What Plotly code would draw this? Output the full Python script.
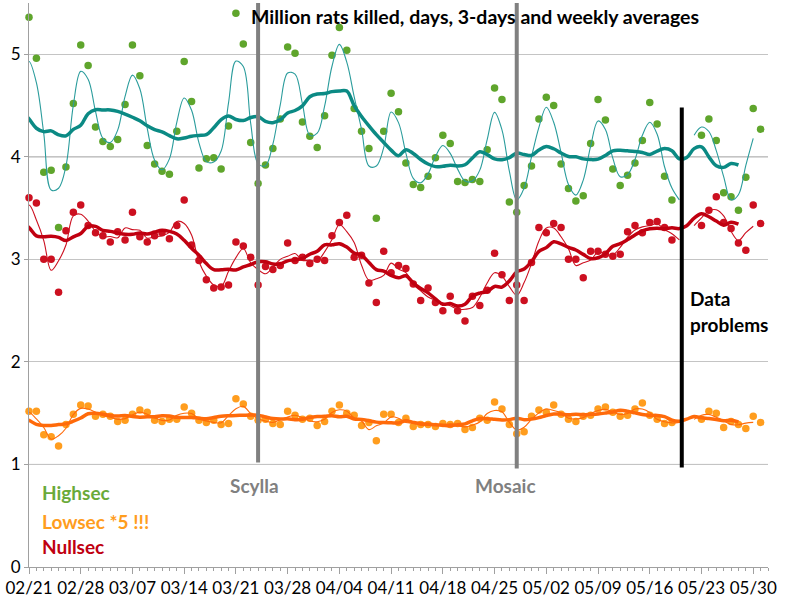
import pandas as pd
import plotly.graph_objects as go

# Daily values (million rats), from 2015-02-18 (3 lead-in days used by the centred averages) to 2015-05-31
start_date = "2015-02-18"
highsec = [3.95, 4.13, 4.47,
           5.36, 4.96, 3.85, 3.87, 3.31, 3.90, 4.52, 5.09, 4.89, 4.29,
           4.15, 4.10, 4.17, 4.51, 5.09, 4.79, 4.11, 3.93, 3.86, 3.83,
           4.25, 4.93, 4.54, 3.89, 3.98, 3.99, 3.88, 4.30, 5.40, 5.10,
           4.14, 3.74, 3.92, 4.08, 4.37, 5.07, 5.01, 4.34, 4.20, 4.09,
           4.40, 4.99, 5.26, 5.04, 4.47, 4.25, 4.08, 3.40, 4.25, 4.62,
           4.44, 3.94, 3.73, 3.70, 3.81, 3.99, 4.21, 4.13, 3.76, 3.75,
           3.78, 3.76, 4.07, 4.67, 4.56, 3.56, 3.46, 3.72, 3.91, 4.37,
           4.58, 4.50, 3.93, 3.69, 3.57, 3.62, 4.13, 4.56, 4.36, 3.88,
           3.72, 3.82, 3.94, 4.16, 4.53, 4.32, 3.81, 3.58, None, None,
           None, 4.21, 4.37, 4.16, 3.65, 3.61, 3.48, 3.80, 4.47, 4.27]
nullsec = [3.25, 3.33, 3.44,
           3.60, 3.55, 3.00, 3.00, 2.68, 3.28, 3.46, 3.53, 3.33, 3.26,
           3.23, 3.17, 3.27, 3.19, 3.46, 3.22, 3.17, 3.23, 3.26, 3.20,
           3.33, 3.58, 3.14, 2.99, 2.80, 2.72, 2.73, 2.75, 3.17, 3.13,
           3.02, 2.75, 2.93, 2.90, 2.94, 3.16, 2.99, 3.02, 2.96, 3.00,
           2.99, 3.23, 3.36, 3.43, 3.02, 3.04, 2.77, 2.58, 3.08, 2.87,
           2.94, 2.91, 2.76, 2.60, 2.72, 2.58, 2.50, 2.64, 2.50, 2.40,
           2.64, 2.55, 2.70, 3.06, 2.85, 2.60, 2.75, 2.60, 2.97, 3.31,
           3.26, 3.35, 3.31, 3.00, 3.00, 2.82, 3.08, 3.08, 3.05, 3.03,
           3.05, 3.27, 3.33, 3.26, 3.36, 3.37, 3.31, 3.19, None, None,
           None, 3.33, 3.48, 3.61, 3.36, 3.30, 3.16, 3.09, 3.53, 3.35]
lowsec_x5 = [1.45, 1.47, 1.49,
             1.52, 1.52, 1.29, 1.27, 1.18, 1.39, 1.49, 1.58, 1.57, 1.47,
             1.49, 1.47, 1.42, 1.43, 1.49, 1.53, 1.51, 1.43, 1.42, 1.44,
             1.44, 1.56, 1.50, 1.43, 1.41, 1.43, 1.39, 1.40, 1.64, 1.59,
             1.47, 1.43, 1.44, 1.40, 1.39, 1.52, 1.48, 1.44, 1.45, 1.38,
             1.42, 1.52, 1.58, 1.50, 1.48, 1.38, 1.41, 1.23, 1.49, 1.49,
             1.41, 1.45, 1.37, 1.39, 1.39, 1.37, 1.40, 1.39, 1.40, 1.34,
             1.36, 1.45, 1.43, 1.61, 1.54, 1.39, 1.30, 1.32, 1.47, 1.53,
             1.51, 1.58, 1.49, 1.44, 1.42, 1.47, 1.48, 1.54, 1.56, 1.51,
             1.47, 1.48, 1.54, 1.60, 1.48, 1.44, 1.40, 1.41, None, None,
             None, 1.44, 1.52, 1.50, 1.36, 1.42, 1.39, 1.35, 1.47, 1.41]

axis_start = "2015-02-21"
axis_end = "2015-06-01"
events = [("Scylla", "2015-03-24", "#808080", 1.02, 5.5, -4),
          ("Mosaic", "2015-04-28", "#808080", 0.96, 5.5, -11)]
data_problem_date = "2015-05-20 08:00"

dates = pd.date_range(start_date, periods=len(highsec), freq="D")

def averages(vals):
    s = pd.Series(vals, index=dates, dtype=float)
    d3 = s.rolling(3, center=True, min_periods=1).mean()
    d3.iloc[-1:] = float("nan")
    wk = s.rolling(7, center=True, min_periods=4).mean()
    wk.iloc[-3:] = float("nan")
    return s, d3, wk

series = [
    ("Lowsec", lowsec_x5, "#ff9d1e", "#ff6a0a", "#ff6a0a"),
    ("Highsec", highsec, "#5fa52c", "#2a9c9c", "#0b8a84"),
    ("Nullsec", nullsec, "#cc1020", "#cc1020", "#c00010"),
]

fig = go.Figure()
for name, vals, pcol, thin, thick in series:
    s, d3, wk = averages(vals)
    shown = s[s.index >= pd.Timestamp(axis_start)]
    fig.add_trace(go.Scatter(x=shown.index, y=shown.values, mode="markers", name=name,
                             marker=dict(color=pcol, size=7.5), cliponaxis=False))
    fig.add_trace(go.Scatter(x=d3.index, y=d3.values, mode="lines", name=name + " 3d",
                             line=dict(color=thin, width=1.1, shape="spline", smoothing=1),
                             connectgaps=False))
    fig.add_trace(go.Scatter(x=wk.index, y=wk.values, mode="lines", name=name + " wk",
                             line=dict(color=thick, width=3.5, shape="spline", smoothing=1)))

shapes = []
for y in (1, 4):
    shapes.append(dict(type="line", xref="paper", x0=0, x1=1, yref="y", y0=y, y1=y,
                       line=dict(color="#8a8a8a", width=1), layer="below"))
annotations = []
for label, d, col, y0, y1, xs in events:
    shapes.append(dict(type="line", xref="x", x0=d, x1=d, yref="y", y0=y0, y1=y1,
                       line=dict(color=col, width=4)))
    annotations.append(dict(x=d, y=0.79, xref="x", yref="y", text="<b>" + label + "</b>",
                            showarrow=False, xshift=xs, font=dict(size=19, color="#808080")))
shapes.append(dict(type="line", xref="x", x0=data_problem_date, x1=data_problem_date,
                   yref="y", y0=0.97, y1=4.48, line=dict(color="black", width=4)))

annotations += [
    dict(x=0.0149, y=0.73, xref="paper", yref="y", xanchor="left", showarrow=False,
         text="<b>Highsec</b>", font=dict(size=19, color="#6aaa3a")),
    dict(x=0.0149, y=0.445, xref="paper", yref="y", xanchor="left", showarrow=False,
         text="<b>Lowsec *5 !!!</b>", font=dict(size=19, color="#ff9d1e")),
    dict(x=0.0149, y=0.20, xref="paper", yref="y", xanchor="left", showarrow=False,
         text="<b>Nullsec</b>", font=dict(size=19, color="#c00010")),
    dict(x=data_problem_date, y=2.62, xref="x", yref="y", xanchor="left", xshift=6,
         showarrow=False, text="<b>Data</b>", font=dict(size=19, color="black")),
    dict(x=data_problem_date, y=2.36, xref="x", yref="y", xanchor="left", xshift=6,
         showarrow=False, text="<b>problems</b>", font=dict(size=19, color="black")),
    dict(x=0.6035, y=5.37, xref="paper", yref="y", showarrow=False,
         text="<b>Million rats killed, days, 3-days and weekly averages</b>",
         font=dict(size=19.5, color="black")),
]

fig.update_layout(
    width=800, height=600, showlegend=False,
    paper_bgcolor="white", plot_bgcolor="white",
    margin=dict(l=29, r=32, t=3, b=33, pad=0),
    font=dict(family="Lato, Liberation Sans, sans-serif", size=17, color="black"),
    shapes=shapes, annotations=annotations,
    xaxis=dict(type="date", range=[axis_start, axis_end], tick0=axis_start,
               dtick=7 * 86400000, tickformat="%m/%d", showgrid=False,
               showline=True, linecolor="#a0a0a0", linewidth=1,
               ticks="outside", ticklen=6, tickcolor="#a0a0a0",
               tickfont=dict(size=17), automargin=False,
               minor=dict(dtick=86400000, ticks="outside", ticklen=3,
                          tickcolor="#a0a0a0", showgrid=False)),
    yaxis=dict(range=[0, 5.5], dtick=1, showgrid=True, gridcolor="#c4c4c4", gridwidth=1.2,
               zeroline=False, showline=True, linecolor="#a0a0a0", linewidth=1,
               ticks="outside", ticklen=4, tickcolor="#a0a0a0", tickfont=dict(size=17),
               automargin=False),
)

fig.write_html("out.html", config={"displayModeBar": False},
               post_script="document.body.style.margin='0';")
